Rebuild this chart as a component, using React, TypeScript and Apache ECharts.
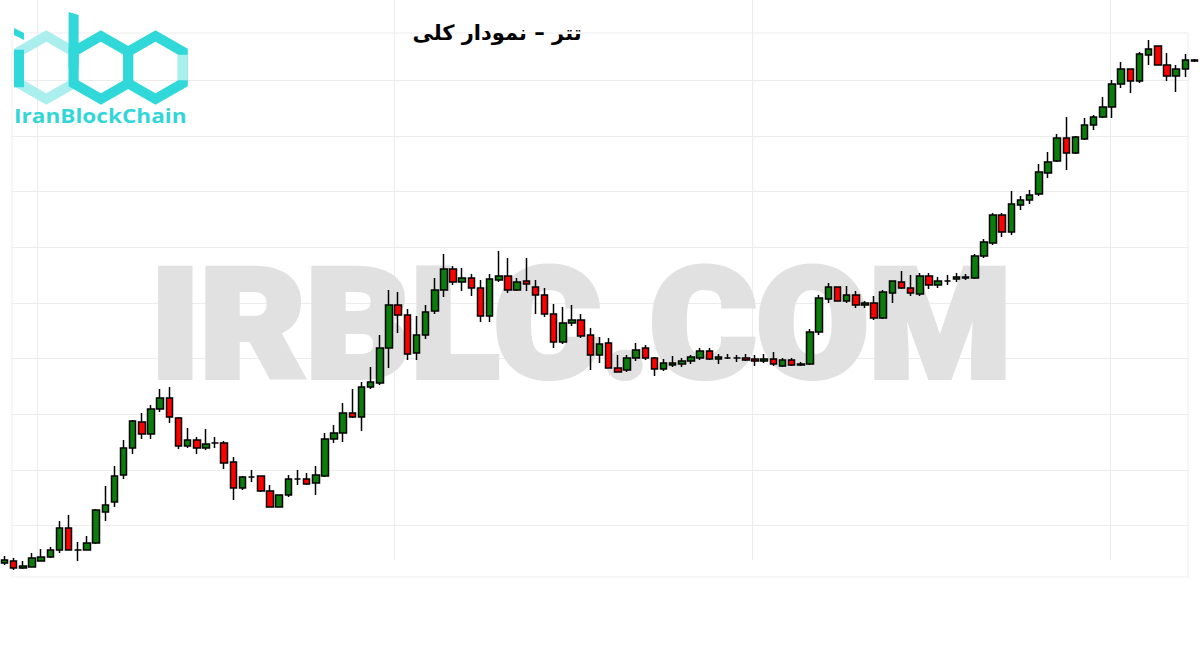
import React, { useEffect, useRef } from "react";
import * as echarts from "echarts";

// Tether (USDT) price, candles (Toman-like units)
const openValues = [
  2850, 2950, 2600, 2650, 2950, 3150, 3500, 4600, 3500, 3500,
  3850, 5400, 5900, 7250, 8600, 9900, 9300, 10550, 11100, 10100,
  8700, 9000, 8600, 8850, 8850, 7900, 6600, 7150, 7200, 6450,
  5650, 6250, 7050, 7050, 6850, 7200, 9050, 9350, 10350, 10150,
  11650, 11850, 13600, 15750, 15250, 13350, 14250, 15450, 16500, 17550,
  16900, 17100, 16600, 15200, 17000, 17200, 16500, 16950, 16650, 16250,
  15300, 13900, 14850, 15000, 14250, 13250, 13850, 12600, 12500, 13100,
  13600, 13100, 12550, 12750, 12800, 12950, 13100, 13450, 13050, 13100,
  13100, 13100, 13050, 12950, 13050, 12700, 13000, 12750, 12800, 14400,
  16050, 16650, 15950, 16250, 15750, 15850, 15100, 16350, 16900, 16600,
  16300, 17200, 16750, 16950, 17050, 17100, 17100, 18200, 18850, 20250,
  19400, 20750, 21000, 21300, 22350, 22950, 24100, 23350, 24050, 24750,
  25150, 25650, 26800, 27550, 26950, 28250, 28700, 27750, 27200, 27550,
  27950,
];
const closeValues = [
  3000, 2600, 2700, 3100, 3150, 3500, 4600, 3500, 3500, 3850,
  5500, 5750, 7200, 8600, 9950, 9300, 10550, 11100, 10150, 8700,
  9000, 8600, 8800, 8850, 7850, 6600, 7150, 7150, 6450, 5650,
  6250, 7050, 7050, 6800, 7250, 9050, 9350, 10350, 10150, 11650,
  11900, 13600, 15750, 15250, 13300, 14250, 15400, 16500, 17550, 16900,
  17100, 16600, 15200, 17050, 17200, 16500, 16900, 16800, 16250, 15300,
  13900, 14850, 15000, 14200, 13250, 13800, 12600, 12400, 13100, 13500,
  13100, 12550, 12850, 12850, 12950, 13150, 13450, 13050, 13150, 13100,
  13100, 13000, 12950, 13050, 12800, 13000, 12750, 12800, 14400, 16100,
  16650, 15950, 16250, 15750, 15850, 15100, 16400, 16950, 16600, 16350,
  17200, 16750, 16950, 16950, 17150, 17150, 18200, 18900, 20250, 19400,
  20800, 21000, 21250, 22400, 22900, 24100, 23350, 24150, 24750, 25150,
  25650, 26800, 27550, 26950, 28300, 28550, 27750, 27200, 27550, 28000,
  28000,
];
const lowValues = [
  2750, 2500, 2550, 2650, 2950, 3100, 3350, 3500, 2950, 3500,
  3800, 4950, 5650, 7050, 8300, 9050, 9050, 10400, 9850, 8550,
  8600, 8300, 8500, 8600, 7550, 6000, 6500, 6900, 6400, 5650,
  5650, 6150, 6750, 6750, 6250, 7150, 8850, 8900, 10100, 9450,
  11550, 11750, 12600, 14350, 13000, 13000, 14050, 15300, 16150, 16750,
  16450, 16200, 14900, 14900, 16900, 16350, 16450, 16450, 15300, 15150,
  13600, 13800, 14700, 14100, 12500, 12850, 12600, 12400, 12400, 12950,
  13000, 12200, 12450, 12650, 12650, 12800, 13000, 13000, 12800, 13050,
  12900, 12950, 12700, 12850, 12700, 12650, 12700, 12700, 12750, 14250,
  15850, 15950, 15850, 15600, 15600, 15000, 15050, 15850, 16550, 16200,
  16200, 16550, 16600, 16750, 16900, 17000, 17050, 18100, 18750, 19150,
  19250, 20500, 20800, 21200, 22100, 22900, 22500, 23300, 24000, 24500,
  25100, 25100, 26600, 26350, 26850, 27750, 27750, 26950, 26400, 27150,
  27900,
];
const highValues = [
  3200, 3100, 2950, 3350, 3550, 3650, 4950, 5250, 3900, 4200,
  5550, 6700, 7700, 9000, 10000, 10350, 10750, 11550, 11650, 10150,
  9600, 9150, 9550, 9150, 8950, 8150, 7200, 7500, 7200, 6750,
  6250, 7250, 7500, 7350, 7700, 9350, 9750, 10850, 11550, 11900,
  12650, 14250, 16500, 16400, 15550, 15200, 15750, 17100, 18300, 17700,
  17600, 17300, 17000, 17300, 18450, 18100, 17100, 18100, 17000, 16600,
  15800, 15650, 15750, 15300, 14600, 14150, 14100, 13250, 13250, 13850,
  13750, 13150, 13050, 13200, 13100, 13250, 13600, 13600, 13300, 13300,
  13250, 13300, 13250, 13300, 13400, 13100, 13100, 12900, 14550, 16250,
  16850, 16650, 16700, 16450, 15950, 16200, 16500, 16950, 17450, 17250,
  17350, 17350, 17150, 17250, 17350, 17300, 18300, 19050, 20350, 20350,
  21450, 21200, 21500, 22800, 23400, 24300, 25150, 24200, 25100, 25250,
  26150, 27000, 27900, 27550, 28400, 29000, 28700, 28350, 27750, 28300,
  28050,
];
const categories = openValues.map((_, i) => String(i + 1));

const titleText = "تتر – نمودار کلی";
const watermarkText = "IRBLC.COM";
const logoText = "IranBlockChain";

const DARK_CYAN = "#30d8da";
const LIGHT_CYAN = "#aaeeee";

function hexPoints(cx: number, cy: number, r: number): number[][] {
  const pts: number[][] = [];
  for (let k = 0; k < 6; k++) {
    const a = ((-90 + 60 * k) * Math.PI) / 180;
    pts.push([cx + r * Math.cos(a), cy + r * Math.sin(a)]);
  }
  return pts;
}

export default function App() {
  const ref = useRef<HTMLDivElement>(null);

  useEffect(() => {
    if (!ref.current) return;
    const chart = echarts.init(ref.current, undefined, { renderer: "svg" });

    const hw = 27.3;
    const R = (hw * 2) / Math.sqrt(3);
    const cy = 67.5;
    const cI = 46.3;
    const cB = cI + 2 * hw;
    const cC = cB + 2 * hw;
    const hexStroke = 10;

    const gridLine = { show: true, lineStyle: { color: "#ececec", width: 1 } };
    const hiddenValueAxis = (gridIndex: number) => ({
      type: "value",
      gridIndex,
      show: false,
    });

    const option: any = {
      animation: false,
      backgroundColor: "#ffffff",
      grid: [
        { left: -1, right: 1, top: 0, bottom: 0 },
        {
          left: 12,
          right: 12,
          top: 33,
          bottom: 73,
          show: true,
          borderColor: "#ededed",
          borderWidth: 1,
          backgroundColor: "transparent",
        },
        { left: 12, right: 12, top: 80.3, height: 445.4 },
        { left: 37, right: 90, top: 0, bottom: 90 },
      ],
      xAxis: [
        {
          type: "category",
          gridIndex: 0,
          data: categories,
          boundaryGap: true,
          show: false,
        },
        hiddenValueAxis(1),
        hiddenValueAxis(2),
        {
          type: "value",
          gridIndex: 3,
          min: 0,
          max: 3,
          interval: 1,
          axisLine: { show: false },
          axisTick: { show: false },
          axisLabel: { show: false },
          splitLine: gridLine,
        },
      ],
      yAxis: [
        { type: "value", gridIndex: 0, min: -1500, max: 31000, show: false },
        hiddenValueAxis(1),
        {
          type: "value",
          gridIndex: 2,
          min: 0,
          max: 8,
          interval: 1,
          axisLine: { show: false },
          axisTick: { show: false },
          axisLabel: { show: false },
          splitLine: gridLine,
        },
        hiddenValueAxis(3),
      ],
      graphic: [
        {
          type: "text",
          z: 1,
          x: 581,
          y: 325,
          scaleX: 1.07,
          style: {
            text: watermarkText,
            fill: "#e1e1e1",
            stroke: "#e1e1e1",
            lineWidth: 6,
            lineJoin: "miter",
            font: "900 152px Roboto, 'Liberation Sans', sans-serif",
            textAlign: "center",
            textVerticalAlign: "middle",
          },
        },
        {
          type: "text",
          z: 10,
          x: 497,
          y: 33,
          style: {
            text: titleText,
            fill: "#000000",
            font: "bold 21px 'DejaVu Sans', sans-serif",
            textAlign: "center",
            textVerticalAlign: "middle",
          },
        },
        // logo: "i" hexagon (light) with dark stem
        {
          type: "polygon",
          z: 10,
          shape: { points: hexPoints(cI, cy, R) },
          style: { fill: "none", stroke: LIGHT_CYAN, lineWidth: hexStroke, lineJoin: "miter" },
        },
        {
          type: "line",
          z: 11,
          shape: { x1: cI - hw, y1: cy - R / 2 - 2, x2: cI - hw, y2: cy + R / 2 + 4 },
          style: { stroke: DARK_CYAN, lineWidth: hexStroke },
        },
        {
          type: "polygon",
          z: 11,
          shape: {
            points: [
              [cI - hw - 5, 28],
              [cI - hw + 5, 33],
              [cI - hw + 5, 40],
              [cI - hw - 5, 35],
            ],
          },
          style: { fill: DARK_CYAN },
        },
        // "b" hexagon and stem
        {
          type: "polygon",
          z: 11,
          shape: { points: hexPoints(cB, cy, R) },
          style: { fill: "none", stroke: DARK_CYAN, lineWidth: hexStroke, lineJoin: "miter" },
        },
        {
          type: "polygon",
          z: 11,
          shape: {
            points: [
              [cB - hw - 5, 12],
              [cB - hw + 5, 15],
              [cB - hw + 5, cy],
              [cB - hw - 5, cy],
            ],
          },
          style: { fill: DARK_CYAN },
        },
        // "c" hexagon with light right edge
        {
          type: "polygon",
          z: 11,
          shape: { points: hexPoints(cC, cy, R) },
          style: { fill: "none", stroke: DARK_CYAN, lineWidth: hexStroke, lineJoin: "miter" },
        },
        {
          type: "line",
          z: 12,
          shape: { x1: cC + hw, y1: cy - R / 2 + 3, x2: cC + hw, y2: cy + R / 2 - 3 },
          style: { stroke: LIGHT_CYAN, lineWidth: hexStroke },
        },
        {
          type: "text",
          z: 12,
          x: 14,
          y: 115,
          scaleX: 1.13,
          style: {
            text: logoText,
            fill: "#33d6d8",
            font: "bold 20px 'Open Sans', sans-serif",
            textAlign: "left",
            textVerticalAlign: "middle",
          },
        },
      ],
      series: [
        {
          type: "candlestick",
          xAxisIndex: 0,
          yAxisIndex: 0,
          z: 5,
          barWidth: 7,
          data: categories.map((_, i) => [
            openValues[i],
            closeValues[i],
            lowValues[i],
            highValues[i],
          ]),
          itemStyle: {
            color: "#0a7d0a",
            color0: "#ff0000",
            borderColor: "#000000",
            borderColor0: "#000000",
            borderColorDoji: "#000000",
            borderWidth: 1.5,
          },
        },
      ],
    };

    chart.setOption(option);
    return () => {
      chart.dispose();
    };
  }, []);

  return (
    <div
      ref={ref}
      style={{ position: "absolute", left: 0, top: 0, width: 1200, height: 650 }}
    />
  );
}
